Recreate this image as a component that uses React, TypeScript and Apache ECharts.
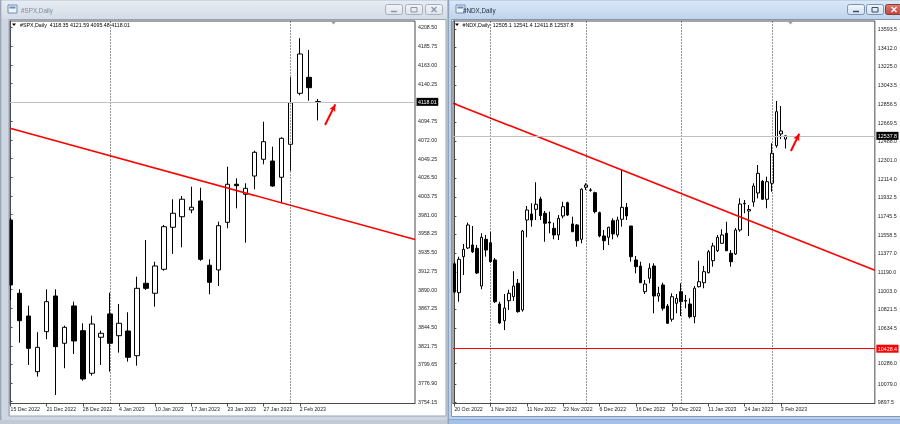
import React, { useEffect, useRef } from 'react';
import * as echarts from 'echarts';

// ---------------- #SPX Daily ----------------
const spxDates = ['15 Dec 2022','16 Dec 2022','19 Dec 2022','20 Dec 2022','21 Dec 2022','22 Dec 2022','23 Dec 2022','27 Dec 2022','28 Dec 2022','29 Dec 2022','30 Dec 2022','3 Jan 2023','4 Jan 2023','5 Jan 2023','6 Jan 2023','9 Jan 2023','10 Jan 2023','11 Jan 2023','12 Jan 2023','13 Jan 2023','17 Jan 2023','18 Jan 2023','19 Jan 2023','20 Jan 2023','23 Jan 2023','24 Jan 2023','25 Jan 2023','26 Jan 2023','27 Jan 2023','30 Jan 2023','31 Jan 2023','1 Feb 2023','2 Feb 2023','3 Feb 2023','6 Feb 2023'];
const spxOpen = [3974.6,3885.7,3858.1,3790.5,3839.1,3882.4,3825.0,3870.3,3840.3,3788.6,3832.3,3860.6,3834.2,3839.9,3809.9,3897.8,3885.7,3914.8,3965.8,3978.6,3986.8,3997.7,3919.7,3914.0,3971.8,4018.0,4005.8,4028.0,4048.3,4046.2,4026.5,4066.5,4128.4,4147.8,4118.35];
const spxHigh = [3977.1,3890.5,3870.6,3838.4,3890.5,3890.5,3846.4,3875.5,3849.3,3858.5,3840.3,3886.4,3872.7,3862.6,3905.8,3950.4,3924.0,3968.6,3999.8,4003.8,4015.0,4013.8,3926.9,3972.6,4039.3,4025.2,4019.2,4058.7,4093.9,4063.6,4075.0,4147.8,4195.2,4181.0,4121.59];
const spxLow = [3877.5,3825.7,3798.7,3784.5,3829.9,3762.3,3794.7,3812.0,3779.6,3785.7,3798.7,3790.5,3813.6,3802.7,3797.8,3889.7,3869.4,3913.1,3933.4,3941.5,3982.8,3925.0,3884.5,3894.5,3964.6,3988.8,3947.1,4011.9,4042.2,4015.0,3994.9,4034.5,4126.0,4119.4,4095.48];
const spxClose = [3895.8,3852.4,3818.9,3820.1,3875.5,3820.9,3844.4,3827.8,3781.7,3848.4,3837.1,3825.0,3849.3,3808.0,3891.7,3891.7,3918.8,3966.5,3982.8,3999.8,3990.1,3926.9,3899.0,3967.7,4018.0,4016.3,4013.1,4056.8,4069.7,4015.9,4073.8,4117.0,4176.1,4135.2,4118.01];
const spxPriceTicks = [4208.50,4185.75,4163.00,4140.25,4094.75,4072.00,4049.25,4026.50,4003.75,3981.00,3958.25,3935.50,3912.75,3890.00,3867.25,3844.50,3821.75,3799.65,3776.90,3754.15];
const spxXRange = [-0.055, 44.75];
const spxYRange = [3751.9, 4216.15];
const spxTrend = [[-0.055, 4085.9], [44.75, 3951.0]];
const spxArrow = [[34.8, 4089.9], [35.93, 4114.9]];

// ---------------- #NDX Daily ----------------
const ndxDates = ['20 Oct 2022','21 Oct 2022','24 Oct 2022','25 Oct 2022','26 Oct 2022','27 Oct 2022','28 Oct 2022','31 Oct 2022','1 Nov 2022','2 Nov 2022','3 Nov 2022','4 Nov 2022','7 Nov 2022','8 Nov 2022','9 Nov 2022','10 Nov 2022','11 Nov 2022','14 Nov 2022','15 Nov 2022','16 Nov 2022','17 Nov 2022','18 Nov 2022','21 Nov 2022','22 Nov 2022','23 Nov 2022','25 Nov 2022','28 Nov 2022','29 Nov 2022','30 Nov 2022','1 Dec 2022','2 Dec 2022','5 Dec 2022','6 Dec 2022','7 Dec 2022','8 Dec 2022','9 Dec 2022','12 Dec 2022','13 Dec 2022','14 Dec 2022','15 Dec 2022','16 Dec 2022','19 Dec 2022','20 Dec 2022','21 Dec 2022','22 Dec 2022','23 Dec 2022','27 Dec 2022','28 Dec 2022','29 Dec 2022','30 Dec 2022','3 Jan 2023','4 Jan 2023','5 Jan 2023','6 Jan 2023','9 Jan 2023','10 Jan 2023','11 Jan 2023','12 Jan 2023','13 Jan 2023','17 Jan 2023','18 Jan 2023','19 Jan 2023','20 Jan 2023','23 Jan 2023','24 Jan 2023','25 Jan 2023','26 Jan 2023','27 Jan 2023','30 Jan 2023','31 Jan 2023','1 Feb 2023','2 Feb 2023','3 Feb 2023','6 Feb 2023'];
const ndxOpen = [11270,10983.5,11340.5,11426.5,11456.5,11423.5,11049.5,11512.5,11478.5,11307.5,10871.5,10706,10904.5,10943.5,11076.5,10812.5,11703.9,11763.5,11809.5,11911.9,11770.5,11684,11621.5,11555.5,11743.5,11875.5,11664.5,11654.5,11512.5,12027.9,12001.5,11974.5,11776.5,11545.5,11532.5,11696.9,11555.5,11710.8,11829.5,11644.5,11307.5,11248,10993.5,11126.5,11248,10950.5,11059.8,10851.5,10719.9,10878.5,10993.5,10907,10871.5,10745.5,11042.9,11082.5,11181.5,11300.5,11399.5,11473,11572.5,11373.9,11367,11605,11869.5,11793,11882.2,11971.5,12087.5,11909,12067.5,12440,12556,12505.1];
const ndxHigh = [11290,11340.5,11466.5,11677.5,11644.5,11456.5,11572.5,11555.5,11587.5,11327,10894.5,10970.5,11013.5,11196.5,11119.5,11605,11842.5,11869.5,12077.5,11934.5,11793,11786.5,11677.5,11753.5,11885.5,11885.5,11736.5,11664.5,12018,12067.5,12018,11984.5,11786.5,11604.5,11637.5,11720.5,11736.5,12199.5,11872.5,11644.5,11347.5,11290.5,11109.5,11274.8,11274.8,11042.9,11082.5,10871.5,10977.5,10970.5,11076.5,10960.5,10928,11049.5,11300.5,11248,11406.5,11478.5,11555.5,11611.7,11687,11406.5,11624.5,11918.9,11902,11852.5,12067.5,12248.8,12100,12132.9,12463.9,12883,12833,12541.4];
const ndxLow = [10977,10894.5,11158.9,11416.5,11376.5,11168.5,11017.5,11340.5,11280.5,10882,10673.5,10613.5,10812.5,10901.5,10785.5,10795.5,11532.5,11637.5,11703.9,11703.9,11488.5,11572.5,11512.5,11505.5,11720.5,11743.5,11584.5,11439.5,11473,12001,11984.5,11770.5,11532.5,11406.5,11456.5,11512.5,11532.5,11637.5,11703.9,11290.5,11175.5,11080,10970.5,11076.5,10779.5,10894.5,10805.5,10673.5,10696.5,10779.5,10752.5,10828.9,10729.5,10680.5,11035,11027.5,11175.5,11241.5,11386,11466.5,11396,11241.5,11357,11587.5,11770.5,11545.5,11835.5,11918.9,11907,11819.8,11984.5,12420,12506,12411.8];
const ndxClose = [10990,11314.5,11413.5,11654.5,11389.5,11178.5,11532.5,11406.5,11290.5,10894.5,10683.5,10831.5,10977.5,11049.5,10795.5,11594.9,11802.9,11703.9,11859.5,11746.5,11671.5,11674,11555.5,11720.5,11835.5,11753.5,11587.5,11498.5,12008.1,12050.5,11998,11786.5,11545.5,11498.5,11631.5,11565.5,11703.9,11829.5,11743.5,11340.5,11241.5,11082.5,11069.5,11225.5,10950.5,10977.5,10828.9,10680.5,10943.5,10928,10894.5,10900,10745.5,11027.5,11092.5,11191.5,11389.5,11446.5,11532.5,11555.5,11399.5,11290.5,11605,11862.5,11864.5,11807.9,12040.8,12166.5,11909,12083.5,12364.8,12777,12586,12537.8];
const ndxPriceTicks = [13593.5,13412.0,13225.0,13043.5,12856.5,12669.5,12488.0,12301.0,12114.0,11932.5,11745.5,11558.5,11377.0,11190.0,11003.0,10821.5,10634.5,10286.0,10079.0,9897.5];
const ndxXRange = [-0.31, 92.74];
const ndxYRange = [9885.5, 13675.7];
const ndxTrend = [[-0.31, 12861.2], [92.74, 11205.5]];
const ndxSupport = 10428.4;
const ndxArrow = [[74.22, 12387.5], [76.07, 12559.0]];

// ---------------- helpers ----------------
const FONT = "'Liberation Sans', Arial, Helvetica, sans-serif";
const AX = 5.3;

const toCandles = (o: number[], c: number[], l: number[], h: number[]) =>
  o.map((v, i) => [i, v, c[i], l[i], h[i]]);
const monthStarts = (dates: string[]) =>
  dates.map((_, i) => i).filter((i) => i > 0 && dates[i].split(' ')[1] !== dates[i - 1].split(' ')[1]);
const everyN = (len: number, n: number) => Array.from({ length: Math.ceil(len / n) }, (_, k) => k * n);

const vGrad = (a: string, b: string) =>
  new echarts.graphic.LinearGradient(0, 0, 0, 1, [{ offset: 0, color: a }, { offset: 1, color: b }]);

const rect = (x: number, y: number, width: number, height: number, fill: any, stroke?: string, z = -100, r = 0) => ({
  type: 'rect', silent: true, z,
  shape: { x, y, width, height, r },
  style: { fill, stroke: stroke || null, lineWidth: stroke ? 1 : 0 },
});
const txt = (x: number, y: number, text: string, size: number, fill: string, z = 100) => ({
  type: 'text', silent: true, z,
  style: { x, y, text, fill, font: `${size}px ${FONT}`, align: 'left', textAlign: 'left', verticalAlign: 'middle', textVerticalAlign: 'middle' },
});
const tri = (cx: number, y: number, w: number, h: number, fill: string) => ({
  type: 'polygon', silent: true, z: 100,
  shape: { points: [[cx - w / 2, y], [cx + w / 2, y], [cx, y + h]] },
  style: { fill },
});
const line = (x1: number, y1: number, x2: number, y2: number, stroke: string, w = 1, z = -89) => ({
  type: 'line', silent: true, z, shape: { x1, y1, x2, y2 }, style: { stroke, lineWidth: w },
});

function titleButtons(xs: number[], active: boolean) {
  const els: any[] = [];
  xs.forEach((x, k) => {
    const isClose = k === 2;
    const fill = isClose && active ? vGrad('#dc7d76', '#c2453e') : active ? vGrad('#f0f5fb', '#d3e1f1') : vGrad('#f2f4f7', '#dfe4ea');
    const stroke = isClose && active ? '#8e3a35' : active ? '#7e93b0' : '#a6b0bd';
    els.push(rect(x, 4.5, 17, 10, fill, stroke, -90, 2));
    const ic = isClose && active ? '#ffffff' : active ? '#3d4f68' : '#8a95a4';
    if (k === 0) els.push(line(x + 5.5, 11.5, x + 11.5, 11.5, ic, 1.5));
    if (k === 1) {
      els.push({ type: 'rect', silent: true, z: -89, shape: { x: x + 5.5, y: 7.5, width: 6, height: 4.5 }, style: { fill: 'none', stroke: ic, lineWidth: 1 } });
    }
    if (k === 2) {
      els.push(line(x + 6, 7, x + 11, 12, ic, 1.3));
      els.push(line(x + 11, 7, x + 6, 12, ic, 1.3));
    }
  });
  return els;
}
const icon = (x: number) => [
  rect(x, 5, 9, 8, '#eef3f9', '#6e8db8', -90),
  rect(x + 1.5, 6.5, 6, 2, '#6e8db8', undefined, -89),
];

function buildOption() {
  const spxLast = spxClose.length - 1;
  const ndxLast = ndxClose.length - 1;
  const spxHeader = `#SPX,Daily  ${spxOpen[spxLast].toFixed(2)} ${spxHigh[spxLast].toFixed(2)} ${spxLow[spxLast].toFixed(2)} ${spxClose[spxLast].toFixed(2)}`;
  const ndxHeader = `#NDX,Daily  ${ndxOpen[ndxLast].toFixed(1)} ${ndxHigh[ndxLast].toFixed(1)} ${ndxLow[ndxLast].toFixed(1)} ${ndxClose[ndxLast].toFixed(1)}`;

  const spxLabelIdx = everyN(spxDates.length, 4);
  const ndxLabelIdx = everyN(ndxDates.length, 8);

  const sepLines = (idx: number[]) =>
    idx.map((i) => ({ xAxis: i, lineStyle: { color: '#2a2a2a', type: [1, 2], width: 1 }, label: { show: false } }));

  const boxLabel = (text: string, bg: string) => ({
    show: true, position: 'end', distance: 1.5, formatter: () => text,
    backgroundColor: bg, color: '#ffffff', padding: [2, 1.5, 1, 1.5],
    fontSize: AX, fontFamily: FONT,
  });

  const xAxisCfg = (gridIndex: number, range: number[], labels: number[], dates: string[]) => ({
    gridIndex, type: 'value', position: 'bottom', min: range[0], max: range[1],
    axisLine: { show: true, lineStyle: { color: '#4a4a4a', width: 1 } },
    axisTick: { show: true, customValues: labels, length: 3, lineStyle: { color: '#4a4a4a' } },
    axisLabel: {
      show: true, customValues: labels, formatter: (v: number) => dates[Math.round(v)] || '',
      align: 'left', margin: 2.5, fontSize: 5.2, fontFamily: FONT, color: '#1c1c1c',
    },
    splitLine: { show: false },
  });
  const yAxisCfg = (gridIndex: number, range: number[], ticks: number[], digits: number) => ({
    gridIndex, type: 'value', position: 'right', min: range[0], max: range[1],
    axisLine: { show: true, lineStyle: { color: '#4a4a4a', width: 1 } },
    axisTick: { show: true, customValues: ticks, length: 2, lineStyle: { color: '#4a4a4a' } },
    axisLabel: {
      show: true, customValues: ticks, formatter: (v: number) => v.toFixed(digits),
      margin: 3, fontSize: AX, fontFamily: FONT, color: '#1c1c1c',
    },
    splitLine: { show: false },
  });

  const candleStyle = {
    color: '#ffffff', color0: '#000000',
    borderColor: '#000000', borderColor0: '#000000', borderColorDoji: '#000000', borderWidth: 1,
  };

  const arrowMarkLine = (pts: number[][]) => ({
    silent: true, animation: false, symbol: ['none', 'arrow'], symbolSize: [5, 7],
    lineStyle: { color: '#ff0000', width: 2, type: 'solid' }, label: { show: false },
    data: [[{ coord: pts[0] }, { coord: pts[1] }]],
  });

  const graphics: any[] = [
    // left window (inactive)
    rect(0, 0, 449, 424, '#cdd6e1'),
    rect(0, 0, 1.5, 424, '#9aa5b3', undefined, -99),
    rect(1.5, 1, 445.5, 18, vGrad('#e6ecf3', '#d4dce6'), undefined, -99),
    rect(9, 19.5, 437, 396.5, '#ffffff', '#98a4b4', -98),
    rect(0, 420, 449, 4, '#c2cad4', undefined, -99),
    ...icon(8),
    txt(21, 10.5, '#SPX,Daily', 6.3, '#7f8da1', -88),
    ...titleButtons([385.5, 405.5, 425.5], false),
    // right window (active)
    rect(449, 0, 451, 424, '#bfd2ea'),
    rect(447.5, 0, 1.5, 424, '#8fa3bd', undefined, -99),
    rect(450, 1, 450, 18, vGrad('#dae8f7', '#bfd3eb'), undefined, -99),
    rect(451.5, 19.5, 449, 397, '#ffffff', '#7f98ba', -98),
    rect(449, 419.5, 451, 4.5, '#a4c2e8', undefined, -99),
    line(449, 419.5, 900, 419.5, '#86a9d8', 1, -97),
    ...icon(456),
    txt(463, 10.5, '#NDX,Daily', 6.3, '#1f2c3d', -88),
    ...titleButtons([847.5, 866.5, 885.5], true),
    // left frame strip over the clipped first candle
    rect(1.5, 20, 7.5, 395, '#cdd6e1', undefined, 50),
    line(9, 20, 9, 415.5, '#98a4b4', 1, 51),
    // header lines inside charts
    tri(14, 23.5, 4, 2.6, '#000000'),
    txt(20, 25, spxHeader, AX, '#000000'),
    tri(457, 23.5, 4, 2.6, '#000000'),
    txt(462.5, 25, ndxHeader, AX, '#000000'),
    // chart shift markers
    tri(333.5, 21.5, 5, 3, '#9a9a9a'),
    tri(790.5, 21.5, 5, 3, '#9a9a9a'),
  ];

  return {
    animation: false,
    backgroundColor: 'transparent',
    grid: [
      { left: 10, top: 21, width: 405, height: 382.5, show: true, borderColor: '#4a4a4a', borderWidth: 1, backgroundColor: 'transparent' },
      { left: 453, top: 21, width: 422, height: 382.5, show: true, borderColor: '#4a4a4a', borderWidth: 1, backgroundColor: 'transparent' },
    ],
    xAxis: [
      xAxisCfg(0, spxXRange, spxLabelIdx, spxDates),
      xAxisCfg(1, ndxXRange, ndxLabelIdx, ndxDates),
    ],
    yAxis: [
      yAxisCfg(0, spxYRange, spxPriceTicks, 2),
      yAxisCfg(1, ndxYRange, ndxPriceTicks, 1),
    ],
    series: [
      {
        name: '#SPX', type: 'candlestick', xAxisIndex: 0, yAxisIndex: 0, barWidth: 5,
        data: toCandles(spxOpen, spxClose, spxLow, spxHigh), itemStyle: candleStyle,
        markLine: {
          silent: true, animation: false, symbol: ['none', 'none'],
          data: [
            ...sepLines(monthStarts(spxDates)),
            { yAxis: spxClose[spxLast], lineStyle: { color: '#c0c0c0', type: 'solid', width: 1 }, label: boxLabel(spxClose[spxLast].toFixed(2), '#000000') },
          ],
        },
      },
      {
        name: '#SPX trend', type: 'line', xAxisIndex: 0, yAxisIndex: 0, data: spxTrend,
        symbol: 'none', lineStyle: { color: '#ff0000', width: 1.6 }, silent: true,
        markLine: arrowMarkLine(spxArrow),
      },
      {
        name: '#NDX', type: 'candlestick', xAxisIndex: 1, yAxisIndex: 1, barWidth: 3,
        data: toCandles(ndxOpen, ndxClose, ndxLow, ndxHigh), itemStyle: candleStyle,
        markLine: {
          silent: true, animation: false, symbol: ['none', 'none'],
          data: [
            ...sepLines(monthStarts(ndxDates)),
            { yAxis: ndxClose[ndxLast], lineStyle: { color: '#c0c0c0', type: 'solid', width: 1 }, label: boxLabel(ndxClose[ndxLast].toFixed(1), '#000000') },
            { yAxis: ndxSupport, lineStyle: { color: '#ff0000', type: 'solid', width: 1.2 }, label: boxLabel(ndxSupport.toFixed(1), '#ff0000') },
          ],
        },
      },
      {
        name: '#NDX trend', type: 'line', xAxisIndex: 1, yAxisIndex: 1, data: ndxTrend,
        symbol: 'none', lineStyle: { color: '#ff0000', width: 1.6 }, silent: true,
        markLine: arrowMarkLine(ndxArrow),
      },
    ],
    graphic: { elements: graphics },
  };
}

export default function App() {
  const ref = useRef<HTMLDivElement>(null);
  useEffect(() => {
    if (!ref.current) return;
    const chart = echarts.init(ref.current, null, { renderer: 'svg' });
    chart.setOption(buildOption() as any);
    return () => chart.dispose();
  }, []);
  return <div ref={ref} style={{ position: 'fixed', left: 0, top: 0, width: 900, height: 424 }} />;
}
